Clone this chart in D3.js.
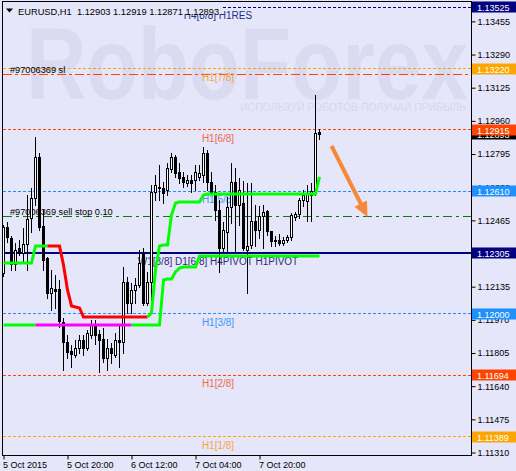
<!DOCTYPE html>
<html lang="en">
<head>
<meta charset="utf-8">
<title>EURUSD,H1</title>
<script src="https://d3js.org/d3.v7.min.js"></script>
<style>
  body { margin: 0; background: #e6e6fa; }
  svg { display: block; font-family: "Liberation Sans", Arial, sans-serif; }
  .axis text { font-size: 9px; fill: #000; font-family: "Liberation Sans", Arial, sans-serif; }
  .axis line { stroke: #000; }
  .axis path { display: none; }
</style>
</head>
<body>
<div id="chart"></div>
<script>
// EURUSD H1, first bar on screen = 5 Oct 2015 04:00
var open = [
  1.12203,1.12432,1.12377,1.12248,1.12327,1.12303,1.12347,1.12477,1.12576,1.12780,
  1.12437,1.12278,1.12104,1.12124,1.12124,1.11959,1.11860,1.11815,1.11795,1.11830,
  1.11870,1.11830,1.11895,1.11944,1.11900,1.11875,1.11780,1.11830,1.11795,1.11870,
  1.11860,1.12158,1.12054,1.12119,1.12143,1.12308,1.12054,1.12158,1.12606,1.12631,
  1.12626,1.12616,1.12721,1.12780,1.12706,1.12681,1.12651,1.12666,1.12666,1.12681,
  1.12691,1.12800,1.12656,1.12606,1.12517,1.12327,1.12407,1.12531,1.12656,1.12541,
  1.12551,1.12318,1.12342,1.12462,1.12417,1.12487,1.12512,1.12412,1.12367,1.12367,
  1.12352,1.12367,1.12382,1.12482,1.12497,1.12566,1.12561,1.12591,1.12611,1.12903
];
var high = [
  1.12442,1.12457,1.12387,1.12352,1.12367,1.12427,1.12591,1.12626,1.12880,1.12800,
  1.12517,1.12283,1.12218,1.12193,1.12168,1.11979,1.11895,1.11845,1.11870,1.11895,
  1.11895,1.11920,1.11969,1.11969,1.11920,1.11930,1.11875,1.11855,1.11905,1.11949,
  1.12233,1.12183,1.12153,1.12178,1.12318,1.12327,1.12208,1.12641,1.12691,1.12740,
  1.12656,1.12750,1.12800,1.12790,1.12750,1.12706,1.12691,1.12691,1.12740,1.12740,
  1.12830,1.12815,1.12706,1.12641,1.12566,1.12457,1.12581,1.12750,1.12726,1.12676,
  1.12661,1.12651,1.12651,1.12541,1.12536,1.12541,1.12517,1.12412,1.12387,1.12397,
  1.12382,1.12392,1.12502,1.12507,1.12576,1.12616,1.12641,1.12651,1.13089,1.12919
];
var low = [
  1.12188,1.12357,1.12218,1.12218,1.12293,1.12258,1.12218,1.12407,1.12541,1.12417,
  1.12218,1.12079,1.12019,1.12029,1.11935,1.11721,1.11780,1.11735,1.11785,1.11805,
  1.11795,1.11820,1.11880,1.11850,1.11711,1.11760,1.11721,1.11755,1.11785,1.11735,
  1.11805,1.12004,1.12004,1.12054,1.12133,1.12044,1.12044,1.12054,1.12566,1.12566,
  1.12551,1.12591,1.12706,1.12681,1.12651,1.12631,1.12636,1.12606,1.12616,1.12666,
  1.12656,1.12616,1.12601,1.12467,1.12208,1.12308,1.12308,1.12452,1.12308,1.12442,
  1.12318,1.12104,1.12327,1.12337,1.12377,1.12327,1.12392,1.12337,1.12337,1.12342,
  1.12342,1.12357,1.12367,1.12467,1.12477,1.12536,1.12462,1.12462,1.12591,1.12871
];
var close = [
  1.12432,1.12382,1.12248,1.12318,1.12303,1.12347,1.12472,1.12576,1.12780,1.12432,
  1.12268,1.12104,1.12128,1.12114,1.11964,1.11860,1.11810,1.11800,1.11830,1.11870,
  1.11830,1.11905,1.11944,1.11895,1.11870,1.11780,1.11830,1.11805,1.11870,1.11860,
  1.12158,1.12054,1.12119,1.12143,1.12253,1.12054,1.12158,1.12606,1.12641,1.12626,
  1.12601,1.12726,1.12780,1.12701,1.12676,1.12656,1.12666,1.12651,1.12706,1.12701,
  1.12800,1.12656,1.12606,1.12517,1.12327,1.12417,1.12531,1.12656,1.12541,1.12616,
  1.12327,1.12337,1.12462,1.12417,1.12487,1.12507,1.12412,1.12362,1.12362,1.12352,
  1.12367,1.12382,1.12492,1.12497,1.12566,1.12591,1.12601,1.12611,1.12900,1.12893
];

// trailing stop lines (one value per bar)
var stopA = [
  1.12253,1.12253,1.12253,1.12253,1.12253,1.12253,1.12253,1.12253,1.12337,1.12337,
  1.12337,1.12337,1.12337,1.12337,1.12337,1.12243,1.12119,1.12039,1.12034,1.12029,
  1.11984,1.11984,1.11984,1.11984,1.11984,1.11984,1.11984,1.11984,1.11984,1.11984,
  1.11984,1.11984,1.11984,1.11984,1.11984,1.11984,1.11984,1.12004,1.12218,1.12337,
  1.12342,1.12342,1.12492,1.12551,1.12556,1.12556,1.12556,1.12556,1.12556,1.12556,
  1.12591,1.12596,1.12596,1.12596,1.12596,1.12596,1.12596,1.12596,1.12596,1.12596,
  1.12596,1.12596,1.12596,1.12596,1.12596,1.12596,1.12596,1.12596,1.12596,1.12596,
  1.12596,1.12596,1.12596,1.12596,1.12596,1.12596,1.12596,1.12596,1.12596,1.12681
];
var stopB = [
  1.11944,1.11944,1.11944,1.11944,1.11944,1.11944,1.11944,1.11944,1.11944,1.11944,
  1.11944,1.11944,1.11944,1.11944,1.11944,1.11944,1.11944,1.11944,1.11944,1.11944,
  1.11944,1.11944,1.11944,1.11944,1.11944,1.11944,1.11944,1.11944,1.11944,1.11944,
  1.11944,1.11944,1.11944,1.11944,1.11944,1.11944,1.11944,1.11944,1.11944,1.11944,
  1.12168,1.12173,1.12173,1.12208,1.12228,1.12233,1.12233,1.12233,1.12233,1.12288,
  1.12288,1.12288,1.12288,1.12288,1.12288,1.12288,1.12288,1.12288,1.12288,1.12288,
  1.12288,1.12288,1.12288,1.12288,1.12288,1.12288,1.12288,1.12288,1.12288,1.12288,
  1.12288,1.12288,1.12288,1.12288,1.12288,1.12288,1.12288,1.12288,1.12288,1.12288
];
// [state, last bar of that state]
var stopAState = [["up", 11], ["down", 36], ["up", 79]];
var stopBState = [["up", 8], ["alt", 32], ["up", 79]];

// Murrey levels
var levelPrices = [1.13525, 1.13220, 1.12915, 1.12610, 1.12305, 1.12000, 1.11694, 1.11389];
var levelNames = ["H4[8/8] H1RES", "H1[7/8]", "H1[6/8]", "H1[5/8]",
  "W1[3/8] D1[6/8] H4PIVOT H1PIVOT", "H1[3/8]", "H1[2/8]", "H1[1/8]"];

// pending order lines
var orderPrices = [1.13193, 1.12486];
var orderNames = ["#97006369 sl", "#97006369 sell stop 0.10"];

var bidPrice = 1.12893;
var yTicks = [1.11310, 1.11475, 1.11640, 1.11805, 1.11970, 1.12135, 1.12300,
  1.12465, 1.12630, 1.12795, 1.12960, 1.13125, 1.13290, 1.13455];
var xTickBars = [0, 16, 32, 48, 64];
var xTickLabels = ["5 Oct 2015", "5 Oct 20:00", "6 Oct 12:00", "7 Oct 04:00", "7 Oct 20:00"];

var arrowBars = [82, 91];
var arrowPrices = [1.12835, 1.12482];

var bg = "#e6e6fa";
var levelStyle = [
  {stroke: "#000080", dash: "3,2", w: 1, text: "#1c2f8a", box: "#000080"},
  {stroke: "#ffa500", dash: "3,2", w: 1, text: "#f7a63a", box: "#ffa500"},
  {stroke: "#ff4500", dash: "3,2", w: 1, text: "#f2684e", box: "#ff4500"},
  {stroke: "#1e90ff", dash: "3,2", w: 1, text: "#3a98f4", box: "#1e90ff"},
  {stroke: "#000080", dash: null, w: 2, text: "#2a2a7a", box: "#000080"},
  {stroke: "#1e90ff", dash: "3,2", w: 1, text: "#3a98f4", box: "#1e90ff"},
  {stroke: "#ff4500", dash: "3,2", w: 1, text: "#f2684e", box: "#ff4500"},
  {stroke: "#ffa500", dash: "3,2", w: 1, text: "#f7a63a", box: "#ffa500"}
];
var orderStyle = [
  {stroke: "#ff4500", dash: "9,3,3,3"},
  {stroke: "#008000", dash: "9,4,3,4"}
];
var stopColors = {up: "#00ff00", down: "#ff0000", alt: "#ff00ff"};

var svg = d3.select("#chart").append("svg")
  .attr("width", 516)
  .attr("height", 471);

svg.append("rect").attr("width", 516).attr("height", 471).attr("fill", bg);

var x = d3.scaleLinear().domain([0, 117]).range([3.5, 471.5]);
var y = d3.scaleLinear().domain([1.11310, 1.13525]).range([452.5, 7.3]);

function crisp(v) { return Math.round(v - 0.5) + 0.5; }

svg.append("clipPath").attr("id", "plot")
  .append("rect").attr("x", 3).attr("y", 2).attr("width", 468).attr("height", 453);
var g = svg.append("g").attr("clip-path", "url(#plot)");

// watermark
g.append("text")
  .attr("x", 26).attr("y", 99)
  .attr("textLength", 442).attr("lengthAdjust", "spacingAndGlyphs")
  .style("font-size", "102px").style("font-weight", "bold")
  .attr("fill", "#dadaf1")
  .text("RoboForex");
g.append("text")
  .attr("x", 240).attr("y", 111)
  .attr("textLength", 226).attr("lengthAdjust", "spacingAndGlyphs")
  .style("font-size", "10px")
  .attr("fill", "#d6d6ef")
  .text("ИСПОЛЬЗУЙ РОБОТОВ ПОЛУЧАЙ ПРИБЫЛЬ");

// level lines
levelPrices.forEach(function(p, i) {
  var st = levelStyle[i];
  var yy = st.w === 2 ? Math.round(y(p)) : crisp(y(p));
  g.append("line")
    .attr("x1", 3).attr("x2", 471).attr("y1", yy).attr("y2", yy)
    .attr("stroke", st.stroke).attr("stroke-width", st.w)
    .attr("stroke-dasharray", st.dash);
});

// order lines
orderPrices.forEach(function(p, i) {
  var yy = crisp(y(p));
  g.append("line")
    .attr("x1", 3).attr("x2", 471).attr("y1", yy).attr("y2", yy)
    .attr("stroke", orderStyle[i].stroke)
    .attr("stroke-dasharray", orderStyle[i].dash);
  g.append("text")
    .attr("x", 10).attr("y", yy - 2)
    .style("font-size", "9.2px")
    .attr("fill", "#000")
    .text(orderNames[i]);
});

// level labels
levelPrices.forEach(function(p, i) {
  g.append("text")
    .attr("x", 218).attr("y", Math.round(y(p)) + 11.5)
    .attr("text-anchor", "middle")
    .style("font-size", "10px")
    .attr("fill", levelStyle[i].text)
    .text(levelNames[i]);
});

// candles
var bars = d3.range(open.length);
g.selectAll(".wick").data(bars).join("line")
  .attr("class", "wick")
  .attr("x1", function(i) { return x(i); })
  .attr("x2", function(i) { return x(i); })
  .attr("y1", function(i) { return Math.round(y(high[i])); })
  .attr("y2", function(i) { return Math.round(y(low[i])) + 1; })
  .attr("stroke", "#000");

g.selectAll(".body").data(bars).join("rect")
  .attr("class", "body")
  .each(function(i) {
    var el = d3.select(this);
    var yo = Math.round(y(open[i])), yc = Math.round(y(close[i]));
    if (close[i] > open[i]) {
      el.attr("x", x(i) - 1).attr("width", 2)
        .attr("y", yc + 0.5).attr("height", Math.max(1, yo - yc))
        .attr("fill", "#fff").attr("stroke", "#000");
    } else {
      el.attr("x", x(i) - 1.5).attr("width", 3)
        .attr("y", yo).attr("height", Math.max(1, yc - yo + 1))
        .attr("fill", "#000");
    }
  });

// trailing stop lines
function stateAt(runs, i) {
  for (var k = 0; k < runs.length; k++) if (i <= runs[k][1]) return runs[k][0];
  return runs[runs.length - 1][0];
}
function drawStops(vals, runs) {
  var segs = [];
  for (var i = 1; i < vals.length; i++) {
    var s = stateAt(runs, i);
    if (segs.length && segs[segs.length - 1].s === s) segs[segs.length - 1].pts.push(i);
    else segs.push({s: s, pts: [i - 1, i]});
  }
  var line = d3.line()
    .x(function(d) { return x(d); })
    .y(function(d) { return y(vals[d]); });
  segs.forEach(function(seg) {
    g.append("path")
      .attr("d", line(seg.pts))
      .attr("fill", "none")
      .attr("stroke", stopColors[seg.s])
      .attr("stroke-width", 3)
      .attr("stroke-linejoin", "miter");
  });
}
drawStops(stopB, stopBState);
drawStops(stopA, stopAState);

// arrow
(function() {
  var x0 = x(arrowBars[0]), y0 = y(arrowPrices[0]);
  var x1 = x(arrowBars[1]), y1 = y(arrowPrices[1]);
  var dx = x1 - x0, dy = y1 - y0, len = Math.sqrt(dx * dx + dy * dy);
  var ux = dx / len, uy = dy / len;
  var hl = 15, hw = 7;
  var bx = x1 - ux * hl, by = y1 - uy * hl;
  g.append("line")
    .attr("x1", x0).attr("y1", y0).attr("x2", bx + ux * 2).attr("y2", by + uy * 2)
    .attr("stroke", "#f7883a").attr("stroke-width", 4);
  g.append("path")
    .attr("d", "M" + x1 + "," + y1 +
      "L" + (bx - uy * hw) + "," + (by + ux * hw) +
      "L" + (bx + uy * hw) + "," + (by - ux * hw) + "Z")
    .attr("fill", "#f7883a");
})();

// title
svg.append("rect").attr("x", 3).attr("y", 2).attr("width", 218).attr("height", 12).attr("fill", bg);
svg.append("path").attr("d", "M6,8.5L13,8.5L9.5,12.5Z").attr("fill", "#000");
svg.append("text")
  .attr("x", 18).attr("y", 15)
  .style("font-size", "9.3px")
  .attr("fill", "#000")
  .attr("xml:space", "preserve")
  .text("EURUSD,H1  1.12903 1.12919 1.12871 1.12893");

// axes
var yAxis = svg.append("g").attr("class", "axis")
  .attr("transform", "translate(471.5,0)")
  .call(d3.axisRight(y).tickValues(yTicks).tickSize(4).tickPadding(2)
    .tickFormat(d3.format(".5f")));
var xAxis = svg.append("g").attr("class", "axis")
  .attr("transform", "translate(0,455.5)")
  .call(d3.axisBottom(x).tickValues(xTickBars).tickSize(4).tickPadding(2)
    .tickFormat(function(d, i) { return xTickLabels[i]; }));
xAxis.selectAll("text").attr("text-anchor", "start").attr("x", -1);

// price boxes
var boxG = svg.append("g");
function priceBox(p, fill) {
  var yy = y(p);
  boxG.append("rect")
    .attr("x", 472).attr("y", Math.round(yy) - 5.5)
    .attr("width", 44).attr("height", 11)
    .attr("fill", fill);
  boxG.append("text")
    .attr("x", 477).attr("y", Math.round(yy) + 3.5)
    .style("font-size", "9px")
    .attr("fill", "#fff")
    .text(d3.format(".5f")(p));
}
priceBox(bidPrice, "#000");
levelPrices.forEach(function(p, i) { priceBox(p, levelStyle[i].box); });

// frame
svg.append("rect")
  .attr("x", 2.5).attr("y", 1.5).attr("width", 469).attr("height", 454)
  .attr("fill", "none").attr("stroke", "#000");
</script>
</body>
</html>
